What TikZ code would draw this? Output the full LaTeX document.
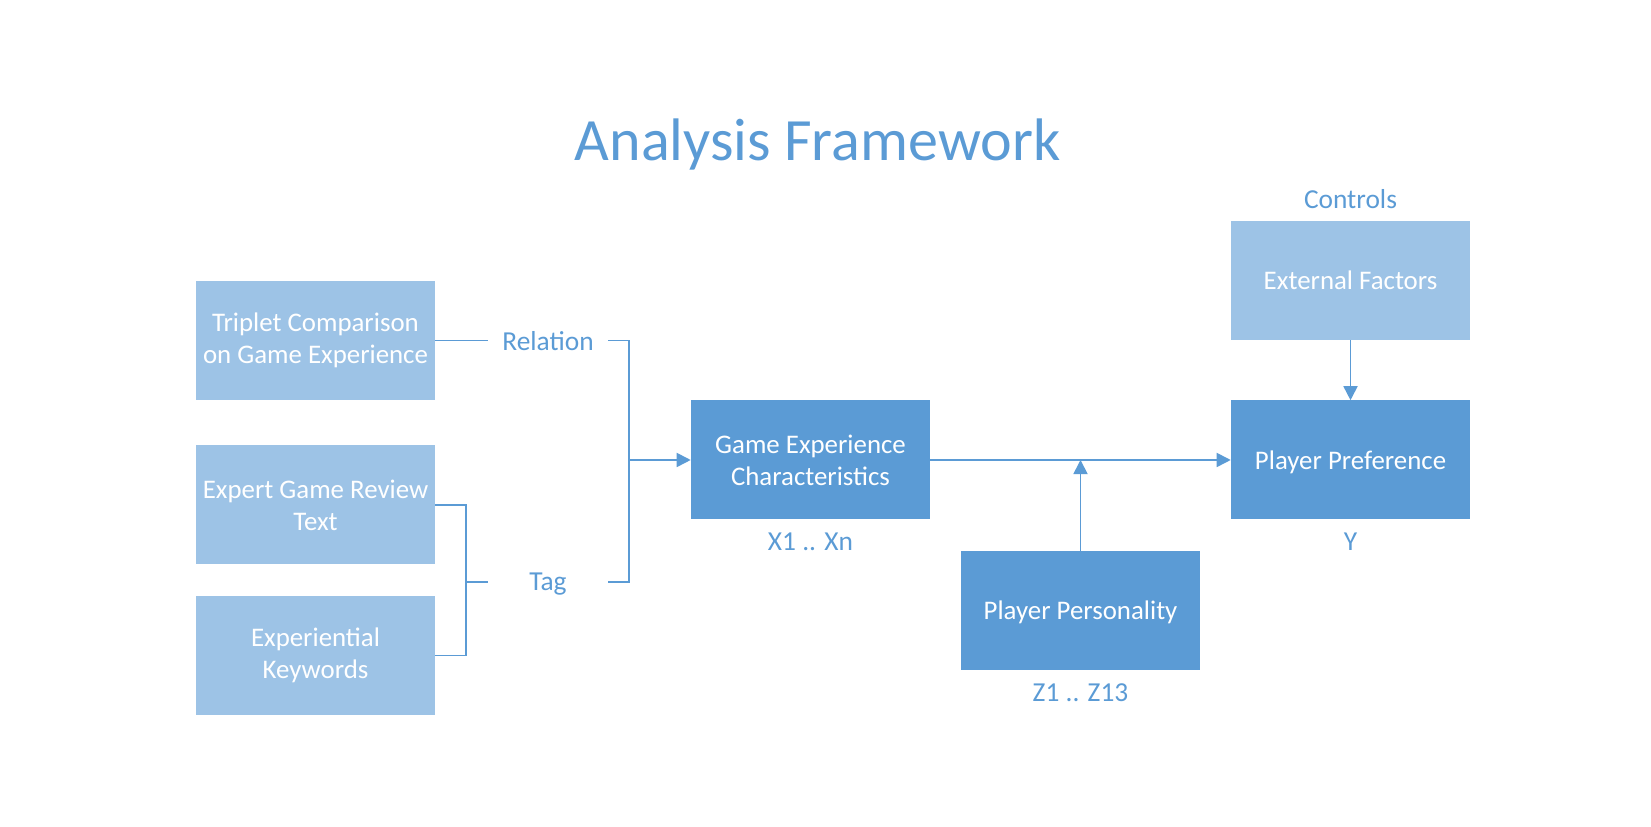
\documentclass[tikz,border=0pt]{standalone}
\usepackage{fontspec}
\setmainfont{Carlito}
\usetikzlibrary{arrows.meta,positioning}
\definecolor{boxdark}{HTML}{5B9BD5}
\definecolor{boxlight}{HTML}{9DC3E6}

\begin{document}
\begin{tikzpicture}[
  every node/.style={font=\fontsize{19.1}{22.8}\selectfont},
  darkbox/.style={fill=boxdark, text=white, minimum width=5.975cm, minimum height=2.975cm, align=center, inner sep=0pt},
  lightbox/.style={darkbox, fill=boxlight},
  oneline/.style={text depth=0pt},
  lbl/.style={text=boxdark, font=\fontsize{19.5}{23}\selectfont, minimum width=3cm, inner sep=0pt, text depth=0pt},
  sublbl/.style={text=boxdark, font=\fontsize{19.5}{23}\selectfont, inner sep=0pt},
  link/.style={draw=boxdark, line width=1.2pt},
  arr/.style={link, -{Triangle[length=10pt,width=10pt]}}
]
  \useasboundingbox (0,0) rectangle (41.275,20.675);
  \node[text=boxdark, font=\fontsize{42.7}{50}\selectfont, anchor=base] (title) at (20.4375,16.66) {Analysis Framework};

  % inputs
  \node[lightbox] (trip) at (7.8875,12.1625) {Triplet Comparison\\on Game Experience};
  \node[lightbox] (expert) at (7.8875,8.05) {Expert Game Review\\Text};
  \node[lightbox] (exper) at (7.8875,4.2875) {Experiential\\Keywords};
  \node[lbl] (rel) at (13.7,12.1625) {Relation};
  \node[lbl] (tag) at (13.7,6.1325) {Tag};
  \coordinate (join) at (15.725,9.175);
  \coordinate (tj) at (11.65,6.1325);

  % model
  \node[darkbox] (gec) at (20.2625,9.175) {Game Experience\\Characteristics};
  \node[darkbox, oneline] (pers) at (27.0125,5.4125) {Player Personality};
  \node[lightbox, oneline] (ext) at (33.7625,13.6625) {External Factors};
  \node[darkbox, oneline] (pref) at (33.7625,9.175) {Player Preference};
  \node[sublbl, below=0.33cm of gec] (xs) {X1 .. Xn};
  \node[sublbl, below=0.33cm of pers] (zs) {Z1 .. Z13};
  \node[sublbl, below=0.33cm of pref] (ys) {Y};
  \node[sublbl, above=0.29cm of ext] (ctrl) {Controls};

  % connectors
  \draw[link] (trip) -- (rel);
  \draw[link] (rel.east) -| (join) |- (tag.east);
  \draw[link] (expert.east) -| (tj) |- (exper.east);
  \draw[link] (tj) -- (tag.west);
  \draw[arr] (join) -- (gec.west);
  \draw[arr] (gec) -- (pref);
  \draw[arr] (pers) -- (pers.north |- gec.east);
  \draw[arr] (ext) -- (pref);
\end{tikzpicture}
\end{document}
